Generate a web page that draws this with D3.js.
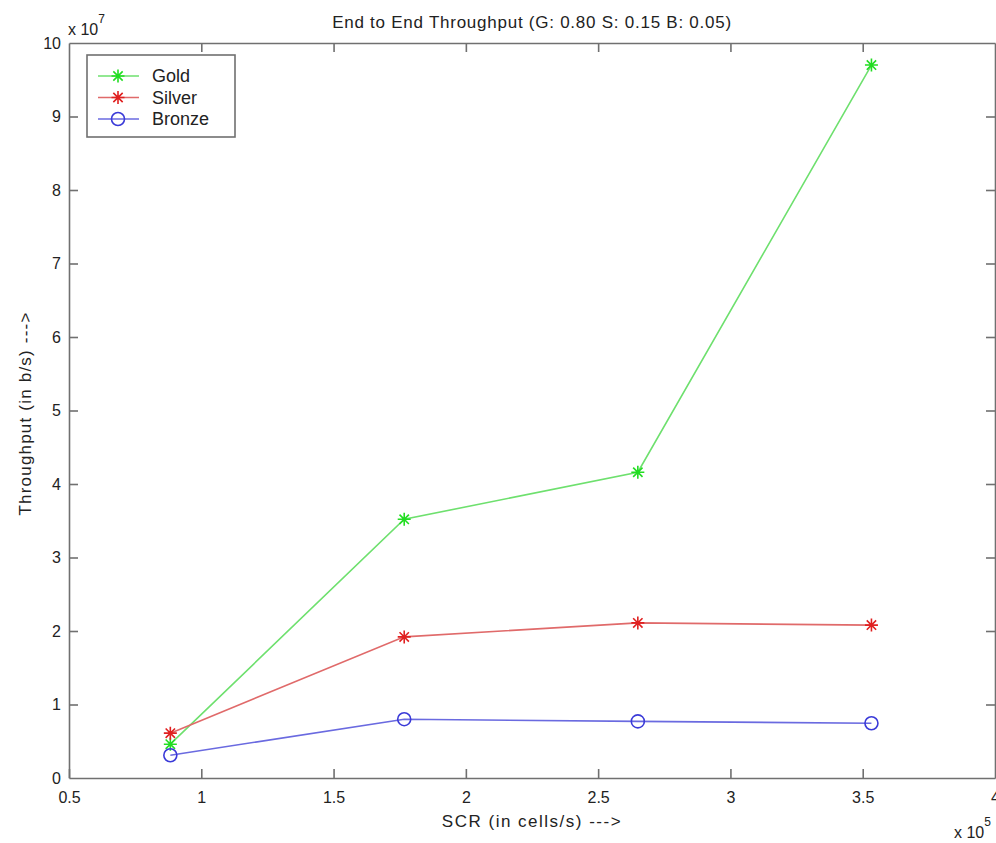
<!DOCTYPE html>
<html>
<head>
<meta charset="utf-8">
<script src="https://cdn.jsdelivr.net/npm/d3@7"></script>
<style>
  body { margin: 0; background: #fff; }
  svg { font-family: "Liberation Sans", Arial, Helvetica, sans-serif; }
  .axis path, .axis line { stroke: #707070; stroke-width: 1.6; }
  .axis text { font-size: 16px; fill: #222; }
</style>
</head>
<body>
<div id="chart"></div>
<script>
// SCR in units of 1e5 cells/s, throughput in units of 1e7 b/s
const scr = [0.883, 1.767, 2.65, 3.533];
const gold = [0.46, 3.52, 4.16, 9.70];
const silver = [0.61, 1.92, 2.11, 2.08];
const bronze = [0.31, 0.80, 0.77, 0.745];

const xTicks = [0.5, 1, 1.5, 2, 2.5, 3, 3.5, 4];
const yTicks = [0, 1, 2, 3, 4, 5, 6, 7, 8, 9, 10];

const series = [
  { name: "Gold", values: gold, line: "#6ee06e", mark: "#22dd22", marker: "star" },
  { name: "Silver", values: silver, line: "#e06a6a", mark: "#e02020", marker: "star" },
  { name: "Bronze", values: bronze, line: "#6a6ae0", mark: "#3a3ad8", marker: "circle" },
];

const width = 996, height = 843;
const margin = { left: 69, right: 1, top: 43, bottom: 65 };

const svg = d3.select("#chart").append("svg")
  .attr("width", width).attr("height", height);

const x = d3.scaleLinear().domain([0.5, 4]).range([margin.left, width - margin.right]);
const y = d3.scaleLinear().domain([0, 10]).range([height - margin.bottom, margin.top]);

const tickLen = 9;

// bottom axis with labels, ticks pointing inward
svg.append("g")
  .attr("class", "axis")
  .attr("transform", `translate(0,${y(0)})`)
  .call(d3.axisBottom(x).tickValues(xTicks).tickSizeInner(-tickLen).tickSizeOuter(0)
    .tickPadding(14).tickFormat(d3.format("")))
  .call(g => g.select(".tick:last-of-type line").remove());

svg.append("g")
  .attr("class", "axis")
  .attr("transform", `translate(0,${y(10)})`)
  .call(d3.axisTop(x).tickValues(xTicks.slice(1, -1)).tickSizeInner(-tickLen).tickSizeOuter(0).tickFormat(""));

svg.append("g")
  .attr("class", "axis")
  .attr("transform", `translate(${x(0.5)},0)`)
  .call(d3.axisLeft(y).tickValues(yTicks).tickSizeInner(-tickLen).tickSizeOuter(0)
    .tickPadding(8).tickFormat(d3.format("")))
  .call(g => g.selectAll(".tick line").filter(d => d === 0 || d === 10).remove());

svg.append("g")
  .attr("class", "axis")
  .attr("transform", `translate(${x(4)},0)`)
  .call(d3.axisRight(y).tickValues(yTicks.slice(1, -1)).tickSizeInner(-tickLen).tickSizeOuter(0).tickFormat(""));

svg.selectAll(".axis .domain").attr("stroke", "#707070");

// exponent labels
const expY = svg.append("text").attr("x", 68).attr("y", 35).attr("font-size", 16).attr("fill", "#222");
expY.append("tspan").text("x 10");
expY.append("tspan").attr("dy", -12).attr("font-size", 12).text("7");

const expX = svg.append("text").attr("x", 954).attr("y", 838).attr("font-size", 16).attr("fill", "#222");
expX.append("tspan").text("x 10");
expX.append("tspan").attr("dy", -12).attr("font-size", 12).text("5");

// title and axis labels
svg.append("text")
  .attr("x", (x(0.5) + x(4)) / 2).attr("y", 28)
  .attr("text-anchor", "middle").attr("font-size", 17).attr("letter-spacing", 0.75)
  .attr("fill", "#222")
  .text("End to End Throughput (G: 0.80 S: 0.15 B: 0.05)");

svg.append("text")
  .attr("x", (x(0.5) + x(4)) / 2).attr("y", 827)
  .attr("text-anchor", "middle").attr("font-size", 17).attr("letter-spacing", 1.5)
  .attr("fill", "#222")
  .text("SCR (in cells/s) --->");

svg.append("text")
  .attr("transform", `translate(31,${(y(0) + y(10)) / 2 + 3}) rotate(-90)`)
  .attr("text-anchor", "middle").attr("font-size", 17).attr("letter-spacing", 1.2)
  .attr("fill", "#222")
  .text("Throughput (in b/s) --->");

// marker shapes
const starPath = (s) => {
  const a = s * 0.72;
  return `M${-s},0L${s},0M0,${-s}L0,${s}M${-a},${-a}L${a},${a}M${-a},${a}L${a},${-a}`;
};

const drawMarker = (g, s, cx, cy) => {
  if (s.marker === "star") {
    g.append("path")
      .attr("transform", `translate(${cx},${cy})`)
      .attr("d", starPath(6.5))
      .attr("stroke", s.mark).attr("stroke-width", 1.6).attr("fill", "none");
  } else {
    g.append("circle")
      .attr("cx", cx).attr("cy", cy).attr("r", 6.5)
      .attr("stroke", s.mark).attr("stroke-width", 1.6).attr("fill", "none");
  }
};

const line = d3.line().x(d => x(d[0])).y(d => y(d[1]));

series.forEach(s => {
  const pts = scr.map((v, i) => [v, s.values[i]]);
  const g = svg.append("g");
  g.append("path")
    .datum(pts)
    .attr("d", line)
    .attr("fill", "none")
    .attr("stroke", s.line)
    .attr("stroke-width", 1.6);
  pts.forEach(p => drawMarker(g, s, x(p[0]), y(p[1])));
});

// legend
const legend = svg.append("g").attr("transform", "translate(87,55)");
legend.append("rect")
  .attr("width", 148).attr("height", 82)
  .attr("fill", "#fff").attr("stroke", "#707070").attr("stroke-width", 1.6);

series.forEach((s, i) => {
  const ly = 21 + i * 21.5;
  const g = legend.append("g");
  g.append("line")
    .attr("x1", 11).attr("x2", 52).attr("y1", ly).attr("y2", ly)
    .attr("stroke", s.line).attr("stroke-width", 1.6);
  drawMarker(g, s, 31, ly);
  g.append("text")
    .attr("x", 65).attr("y", ly + 6)
    .attr("font-size", 18).attr("fill", "#222")
    .text(s.name);
});
</script>
</body>
</html>
